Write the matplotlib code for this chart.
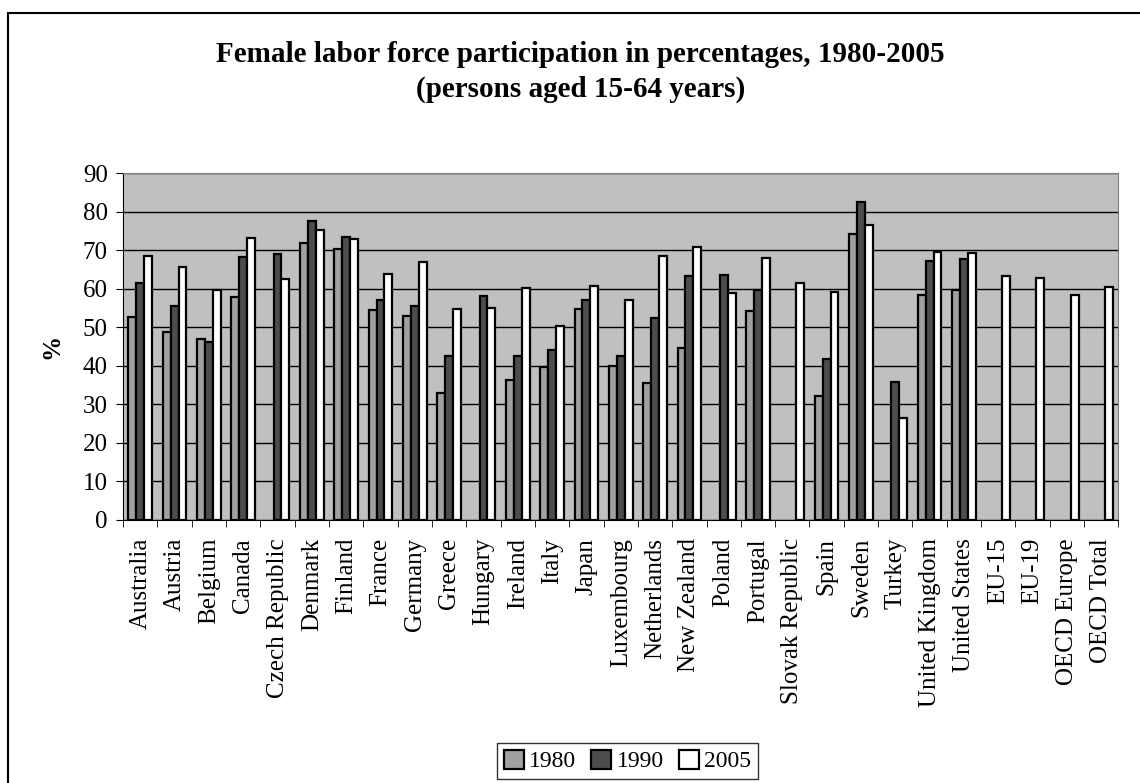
import numpy as np
import matplotlib.pyplot as plt
from matplotlib.patches import Rectangle

plt.rcParams['font.family'] = ['Liberation Serif', 'DejaVu Serif']

countries = ['Australia', 'Austria', 'Belgium', 'Canada', 'Czech Republic', 'Denmark',
             'Finland', 'France', 'Germany', 'Greece', 'Hungary', 'Ireland', 'Italy',
             'Japan', 'Luxembourg', 'Netherlands', 'New Zealand', 'Poland', 'Portugal',
             'Slovak Republic', 'Spain', 'Sweden', 'Turkey', 'United Kingdom',
             'United States', 'EU-15', 'EU-19', 'OECD Europe', 'OECD Total']

nan = np.nan
v1980 = [52.6, 48.7, 47.0, 57.8, nan, 71.8, 70.2, 54.4, 52.8, 33.0, nan, 36.3, 39.6,
         54.8, 39.9, 35.5, 44.6, nan, 54.3, nan, 32.2, 74.1, nan, 58.4, 59.7,
         nan, nan, nan, nan]
v1990 = [61.4, 55.4, 46.1, 68.3, 69.0, 77.6, 73.5, 57.1, 55.5, 42.6, 58.0, 42.6, 44.0,
         57.1, 42.4, 52.4, 63.2, 63.5, 59.6, nan, 41.8, 82.5, 35.9, 67.3, 67.8,
         nan, nan, nan, nan]
v2005 = [68.4, 65.6, 59.6, 73.1, 62.4, 75.1, 72.9, 63.8, 66.8, 54.6, 55.1, 60.3, 50.4,
         60.8, 57.0, 68.5, 70.8, 58.9, 67.9, 61.4, 59.1, 76.6, 26.5, 69.6, 69.2,
         63.4, 62.8, 58.3, 60.4]

fig = plt.figure(figsize=(11.4, 7.83), dpi=100)
ax = fig.add_axes([0.108, 0.336, 0.873, 0.443])
ax.set_facecolor('#c0c0c0')

x = np.arange(len(countries))
w = 0.23
ax.bar(x - w, v1980, w, color='#a0a0a0', edgecolor='black', linewidth=1.6, label='1980', zorder=3)
ax.bar(x, v1990, w, color='#4d4d4d', edgecolor='black', linewidth=1.6, label='1990', zorder=3)
ax.bar(x + w, v2005, w, color='white', edgecolor='black', linewidth=1.6, label='2005', zorder=3)

ax.set_xlim(-0.5, len(countries) - 0.5)
ax.set_ylim(0, 90)
ax.set_yticks(range(0, 91, 10))
ax.yaxis.grid(True, color='black', linewidth=1, zorder=0)
ax.set_xticks(x)
ax.set_xticklabels(countries, rotation=90, fontsize=18)
ax.set_xticks(np.arange(-0.5, len(countries), 1), minor=True)
ax.tick_params(axis='x', which='major', length=0, pad=13)
ax.tick_params(axis='x', which='minor', length=5, direction='out')
ax.tick_params(axis='y', labelsize=18, direction='out', length=5, pad=6)
ax.set_ylabel('%', fontsize=18, fontweight='bold', labelpad=14)

for s in ['top', 'right']:
    ax.spines[s].set_color('#808080')
ax.spines['left'].set_color('black')
ax.spines['bottom'].set_color('black')

fig.text(0.509, 0.908, 'Female labor force participation in percentages, 1980-2005\n(persons aged 15-64 years)',
         ha='center', va='center', fontsize=21, fontweight='bold', linespacing=1.4)

fig.legend(loc='center', bbox_to_anchor=(0.5504, 0.028), ncol=3, fontsize=17, frameon=True,
           fancybox=False, edgecolor='black', handlelength=0.85, handleheight=0.85,
           handletextpad=0.22, columnspacing=0.65, borderpad=0.3, borderaxespad=0)

# outer chart border (only left and top edges fall inside the image)
fig.patches.append(Rectangle((0.007, -0.05), 1.1, 1.033, transform=fig.transFigure,
                             fill=False, edgecolor='black', linewidth=1.5))

fig.savefig('out.png', dpi=100)
